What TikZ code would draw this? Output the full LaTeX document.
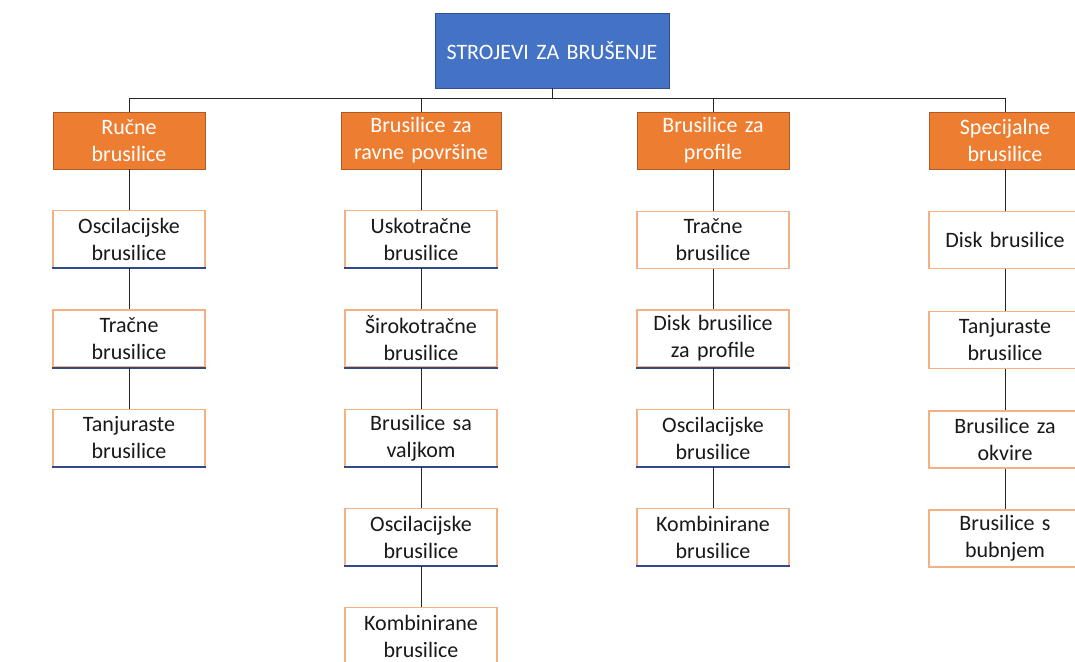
\documentclass[tikz,border=0pt]{standalone}
\usepackage{fontspec}
\setmainfont{Carlito}
\definecolor{rootblue}{HTML}{4472C4}
\definecolor{rootedge}{HTML}{2F528F}
\definecolor{catorange}{HTML}{ED7D31}
\definecolor{catedge}{HTML}{AE5A21}
\definecolor{itemedge}{HTML}{F4B183}
\definecolor{ulblue}{HTML}{2F4A86}
\tikzset{
  box/.style={rectangle, align=center, inner sep=0pt, minimum height=57pt,
    minimum width=152pt, text width=148pt, font=\fontsize{22}{27}\selectfont},
  rootbox/.style={box, fill=rootblue, draw=rootedge, line width=0.8pt, text=white,
    minimum width=234pt, minimum height=75pt, text width=230pt},
  catbox/.style={box, fill=catorange, draw=catedge, line width=0.8pt, text=white},
  itembox/.style={box, fill=white, draw=itemedge, line width=1.2pt, text=black!90},
  link/.style={draw=black!85, line width=0.9pt},
  uline/.style={draw=ulblue, line width=1.8pt}
}
\begin{document}
\begin{tikzpicture}[x=1pt, y=-1pt]
\useasboundingbox (0,0) rectangle (1075,661);
\node[rootbox] (root) at (552,50.5) {STROJEVI ZA BRUŠENJE};
\node[catbox] (a) at (129,140.5) {Ručne\\brusilice};
\node[catbox, minimum width=160pt, text width=156pt] (b) at (421,140.5) {Brusilice za\\ravne površine};
\node[catbox] (c) at (713,140.5) {Brusilice za\\profile};
\node[catbox] (d) at (1005,140.5) {Specijalne\\brusilice};

\node[itembox] (a1) at (129,239) {Oscilacijske\\brusilice};
\node[itembox] (a2) at (129,338.5) {Tračne\\brusilice};
\node[itembox] (a3) at (129,438) {Tanjuraste\\brusilice};

\node[itembox] (b1) at (421,239) {Uskotračne\\brusilice};
\node[itembox] (b2) at (421,338.5) {Širokotračne\\brusilice};
\node[itembox] (b3) at (421,438) {Brusilice sa\\valjkom};
\node[itembox] (b4) at (421,537) {Oscilacijske\\brusilice};
\node[itembox] (b5) at (421,636) {Kombinirane\\brusilice};

\node[itembox] (c1) at (713,240) {Tračne\\brusilice};
\node[itembox] (c2) at (713,338.5) {Disk brusilice\\za profile};
\node[itembox] (c3) at (713,438) {Oscilacijske\\brusilice};
\node[itembox] (c4) at (713,537) {Kombinirane\\brusilice};

\node[itembox] (d1) at (1005,240) {Disk brusilice};
\node[itembox] (d2) at (1005,340) {Tanjuraste\\brusilice};
\node[itembox] (d3) at (1005,439.5) {Brusilice za\\okvire};
\node[itembox] (d4) at (1005,538.5) {Brusilice s\\bubnjem};

\foreach \n in {a1,a2,a3,b1,b2,b3,b4,c2,c3,c4}
  \draw[uline] (\n.south west) -- (\n.south east);

\foreach \n in {a,b,c,d}
  \draw[link] (root.south) -- ++(0,10) -| (\n.north);
\foreach \p/\q in {a/a1,a1/a2,a2/a3,b/b1,b1/b2,b2/b3,b3/b4,b4/b5,
                   c/c1,c1/c2,c2/c3,c3/c4,d/d1,d1/d2,d2/d3,d3/d4}
  \draw[link] (\p.south) -- (\q.north);
\end{tikzpicture}
\end{document}
